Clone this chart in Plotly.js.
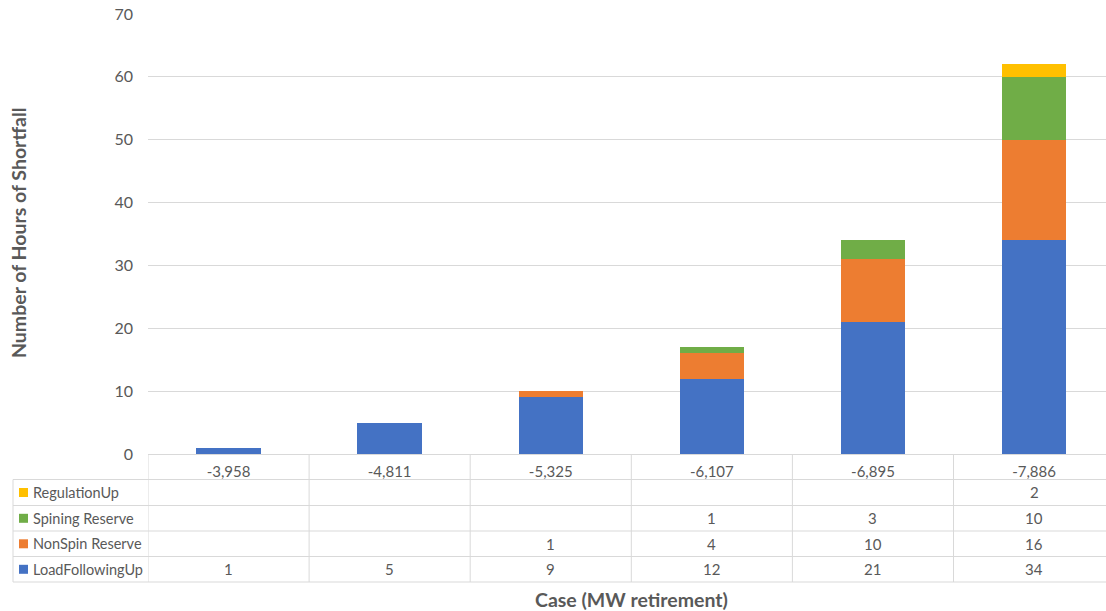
<!DOCTYPE html>
<html>
<head>
<meta charset="utf-8">
<script src="https://cdn.plot.ly/plotly-3.0.1.min.js"></script>
<style>html,body{margin:0;padding:0;background:#fff;}#chart{width:1106px;height:611px;}</style>
</head>
<body>
<div id="chart"></div>
<script>
// ---- data ----
const cases = ['-3,958', '-4,811', '-5,325', '-6,107', '-6,895', '-7,886'];
const loadFollowingUp = [1, 5, 9, 12, 21, 34];
const nonSpinReserve = [null, null, 1, 4, 10, 16];
const spiningReserve = [null, null, null, 1, 3, 10];
const regulationUp = [null, null, null, null, null, 2];
const seriesNames = ['LoadFollowingUp', 'NonSpin Reserve', 'Spining Reserve', 'RegulationUp'];
const yTitle = 'Number of Hours of Shortfall';
const xTitle = 'Case (MW retirement)';

// ---- styling ----
const colors = ['#4472C4', '#ED7D31', '#70AD47', '#FFC000'];
const FONT = 'Lato, "Open Sans", sans-serif';
const TXT = '#595959';
const GRID = '#d9d9d9';
const L = 148, R = 1106, T = 14, B = 454;   // plot area in px
const CAT_W = 161.1;                       // px per category
const xEnd = -0.5 + (R - L) / CAT_W;
const py = v => (B - v) / (B - T);
const px = v => (v - L) / (R - L);

const seriesVals = [loadFollowingUp, nonSpinReserve, spiningReserve, regulationUp];
const xs = cases.map((c, i) => i);

const traces = seriesVals.map((vals, k) => ({
  type: 'bar', x: xs, y: vals, name: seriesNames[k],
  marker: {color: colors[k], line: {width: 0}}, width: 0.4,
  hoverinfo: 'skip'
}));

// table rows (top to bottom): RegulationUp, Spining, NonSpin, LoadFollowing
const rowOrder = [3, 2, 1, 0];
const rowLines = [479.5, 505.5, 531, 556.5, 582];
const rowCenters = [492.5, 518.3, 543.8, 569.3];

const shapes = [];
const annotations = [];
const lineStyle = {color: GRID, width: 1};
rowLines.forEach(y => shapes.push({type: 'line', xref: 'paper', yref: 'paper',
  x0: px(13), x1: px(1120), y0: py(y), y1: py(y), line: lineStyle, layer: 'below'}));
for (let i = 0; i <= cases.length; i++) {
  shapes.push({type: 'line', xref: 'x', yref: 'paper', x0: i - 0.5, x1: i - 0.5,
    y0: py(B), y1: py(582), line: lineStyle});
}
shapes.push({type: 'line', xref: 'paper', yref: 'paper', x0: px(13), x1: px(13),
  y0: py(479.5), y1: py(582), line: lineStyle});

rowOrder.forEach((k, r) => {
  const yc = rowCenters[r];
  shapes.push({type: 'rect', xref: 'paper', yref: 'paper', x0: px(19), x1: px(28),
    y0: py(yc - 4.5), y1: py(yc + 4.5), fillcolor: colors[k], line: {width: 0}});
  annotations.push({xref: 'paper', yref: 'paper', x: px(31), y: py(yc), xanchor: 'left',
    yanchor: 'middle', text: seriesNames[k], showarrow: false,
    font: {family: FONT, size: 14.5, color: TXT}});
  seriesVals[k].forEach((v, i) => {
    if (v === null) return;
    annotations.push({xref: 'x', yref: 'paper', x: i, y: py(yc), xanchor: 'center',
      yanchor: 'middle', text: String(v), showarrow: false,
      font: {family: FONT, size: 15, color: TXT}});
  });
});

annotations.push({xref: 'paper', yref: 'paper', x: px(631), y: py(599), xanchor: 'center',
  yanchor: 'middle', text: '<b>' + xTitle + '</b>', showarrow: false,
  font: {family: FONT, size: 19.5, color: TXT}});
annotations.push({xref: 'paper', yref: 'paper', x: px(19), y: py(233), xanchor: 'center',
  yanchor: 'middle', text: '<b>' + yTitle + '</b>', showarrow: false, textangle: -90,
  font: {family: FONT, size: 19.5, color: TXT}});

const layout = {
  width: 1106, height: 611,
  margin: {l: L, r: 1106 - R, t: T, b: 611 - B},
  paper_bgcolor: '#fff', plot_bgcolor: '#fff',
  barmode: 'stack', showlegend: false,
  xaxis: {range: [-0.5, xEnd], tickvals: xs, ticktext: cases, showgrid: false,
    zeroline: false, showline: true, linecolor: GRID, linewidth: 1, ticks: '',
    ticklabelstandoff: 4, tickfont: {family: FONT, size: 15, color: TXT}, fixedrange: true},
  yaxis: {range: [0, 70], dtick: 10, showgrid: true, gridcolor: GRID, gridwidth: 1,
    zeroline: false, showline: false, ticks: '', ticklabelstandoff: 14,
    tickfont: {family: FONT, size: 16, color: TXT}, fixedrange: true},
  shapes: shapes, annotations: annotations,
  font: {family: FONT, color: TXT}
};

Plotly.newPlot('chart', traces, layout, {displayModeBar: false, staticPlot: true});
</script>
</body>
</html>
